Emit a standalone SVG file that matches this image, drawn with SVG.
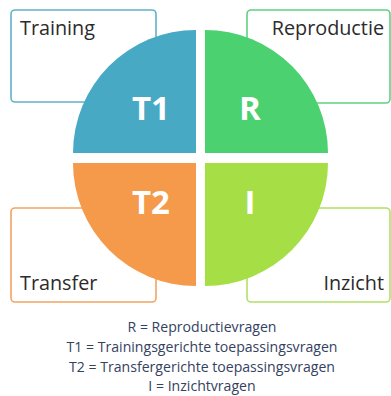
<svg xmlns="http://www.w3.org/2000/svg" width="391" height="396" viewBox="0 0 391 396">
<style>
.box{fill:#fff;stroke-width:1.6}
.lbl{font-family:"Open Sans","Liberation Sans",sans-serif;font-size:19.8px;fill:#2b2b2b}
.q{font-family:"Open Sans","Liberation Sans",sans-serif;font-size:33px;font-weight:bold;fill:#fff;text-anchor:middle}
.leg{font-family:"Open Sans","Liberation Sans",sans-serif;font-size:14.1px;fill:#34425f;text-anchor:middle}
</style>
<rect width="391" height="396" fill="#fff"/>
<g id="box-training"><rect class="box" x="11" y="10" width="145" height="92" rx="4" stroke="#62b1cb"/><text class="lbl" x="20" y="35">Training</text></g>
<g id="box-reproductie"><rect class="box" x="247" y="10" width="143" height="93" rx="4" stroke="#5fd183"/><text class="lbl" x="384" y="35" text-anchor="end">Reproductie</text></g>
<g id="box-transfer"><rect class="box" x="11" y="208" width="145" height="94" rx="4" stroke="#f2a462"/><text class="lbl" x="20" y="290">Transfer</text></g>
<g id="box-inzicht"><rect class="box" x="247" y="208" width="143" height="94" rx="4" stroke="#b2e067"/><text class="lbl" x="384" y="290" text-anchor="end">Inzicht</text></g>
<g id="T1"><path d="M196 153 L73 153 A123 123 0 0 1 196 30 Z" fill="#48a9c5"/><text class="q" x="151" y="120">T1</text></g>
<g id="R"><path d="M205 153 L205 30 A123 123 0 0 1 328 153 Z" fill="#4bd16f"/><text class="q" x="250" y="120">R</text></g>
<g id="T2"><path d="M196 163 L196 286 A123 123 0 0 1 73 163 Z" fill="#f59a4a"/><text class="q" x="151" y="214">T2</text></g>
<g id="I"><path d="M205 163 L328 163 A123 123 0 0 1 205 286 Z" fill="#a6df45"/><text class="q" x="250" y="214">I</text></g>
<g id="connectors"></g>
<g id="legend">
<text class="leg" x="202" y="332">R = Reproductievragen</text>
<text class="leg" x="202" y="352">T1 = Trainingsgerichte toepassingsvragen</text>
<text class="leg" x="202" y="372">T2 = Transfergerichte toepassingsvragen</text>
<text class="leg" x="202" y="391">I = Inzichtvragen</text>
</g>
</svg>
